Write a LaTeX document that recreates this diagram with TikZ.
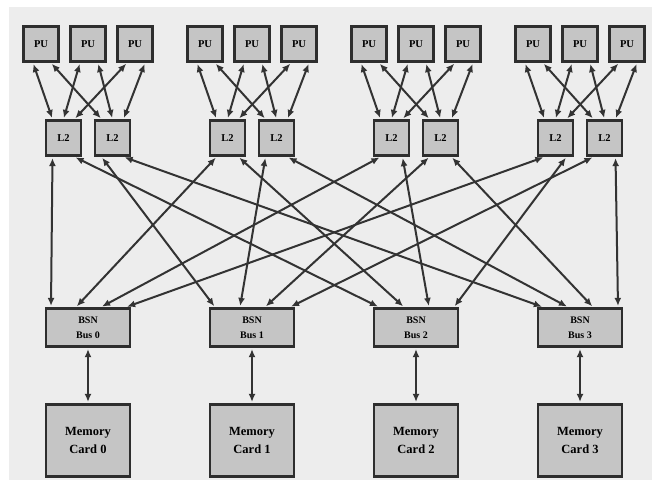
\documentclass[tikz,border=0pt]{standalone}
\usepackage{fontspec}
\setmainfont{Liberation Serif}
\usetikzlibrary{arrows.meta, calc}
\definecolor{paper}{HTML}{EDEDED}
\definecolor{boxfill}{HTML}{C5C5C5}
\definecolor{boxline}{HTML}{2E2E2E}
\definecolor{wire}{HTML}{333333}
\tikzset{
	unit/.style={draw=boxline, fill=boxfill, line width=2.8pt, inner sep=0pt, align=center},
	cpu unit/.style={unit, minimum width=35pt, minimum height=35pt, font=\fontsize{10.5}{12}\selectfont\bfseries},
	bus unit/.style={unit, minimum width=84pt, minimum height=38pt, font=\fontsize{10}{15}\selectfont\bfseries},
	mem unit/.style={unit, minimum width=84pt, minimum height=72pt, font=\fontsize{12.5}{18}\selectfont\bfseries},
	link/.style={<->, color=wire, line width=2pt, shorten >=1.2pt, shorten <=1.2pt}
}

\begin{document}
\begin{tikzpicture}[x=1pt, y=-1pt, >={Latex[length=8pt,width=7pt]}]
	\fill[white] (0,0) rectangle (652,483);
	\fill[paper] (9,7) rectangle (652,480);

	% four groups: three PUs over two L2s, one BSN bus and its memory card
	\foreach \grp in {0,...,3} {
		\pgfmathsetmacro{\gx}{88+164*\grp}
		\foreach \pu in {0,1,2}
			\node[cpu unit] (pu\grp\pu) at ({\gx+47*(\pu-1)},44) {PU};
		\node[cpu unit] (l2\grp0) at ({\gx-24.5},138) {L2};
		\node[cpu unit] (l2\grp1) at ({\gx+24.5},138) {L2};
		\node[bus unit] (bsn\grp) at (\gx,327.5) {BSN\\Bus \grp};
		\node[mem unit] (mem\grp) at (\gx,440.5) {Memory\\Card \grp};
	}

	% every PU talks to both L2s of its group
	% left L2s go to buses 0 and 2, right L2s to buses 1 and 3
	\foreach \grp in {0,...,3} {
		\foreach \pu in {0,1,2}
			\foreach \lc in {0,1}
				\path[link] ($(pu\grp\pu.south)+({18*\lc-8},0)$) edge ($(l2\grp\lc.north)+({11*\pu-11},0)$);
		\foreach \lc in {0,1}
			\foreach \side in {0,1} {
				\pgfmathtruncatemacro{\dst}{\lc+2*\side}
				\path[link] ($(l2\grp\lc.south)+({22*\side-11},0)$) edge ($(bsn\dst.north)+({25*\grp-37},0)$);
			}
		\path[link] (bsn\grp) edge (mem\grp);
	}
\end{tikzpicture}
\end{document}
